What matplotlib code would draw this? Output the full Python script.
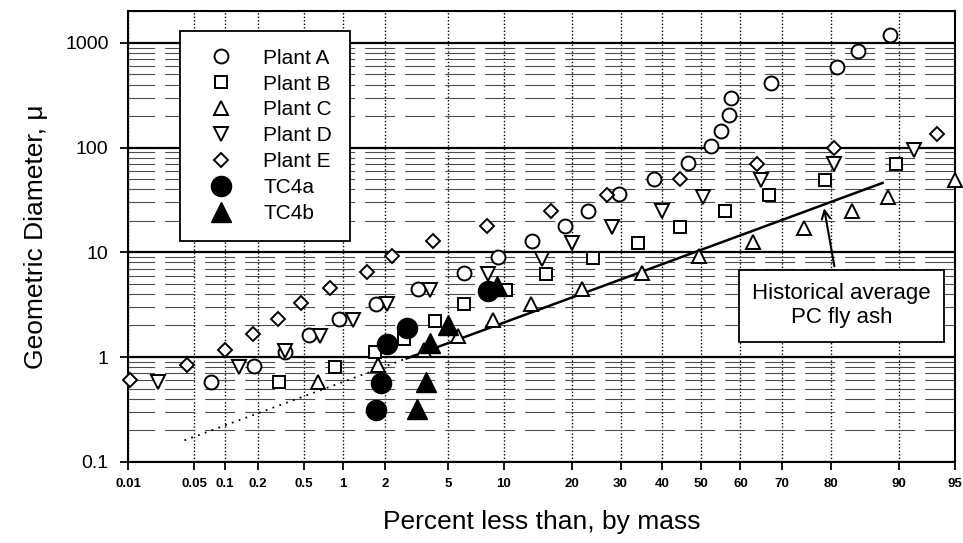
import math
from statistics import NormalDist

import matplotlib
matplotlib.use("Agg")
import matplotlib.pyplot as plt
import numpy as np
from matplotlib.ticker import FixedLocator, LogLocator, NullFormatter, NullLocator

plt.rcParams['font.family'] = ['Liberation Sans', 'DejaVu Sans']

# cumulative percent less than (by mass) vs geometric diameter
plant_a_pct = [0.073, 0.185, 0.345, 0.55, 0.93, 1.73, 3.3, 6.2, 9.4, 13.6, 18.8, 23.2,
               29.7, 37.9, 46.5, 52.6, 55.0, 57.2, 57.6, 67.3, 81.0, 84.5, 88.9]
plant_a_d = [0.58, 0.82, 1.12, 1.64, 2.3, 3.2, 4.5, 6.4, 9.0, 12.8, 18, 25,
             36, 50, 72, 103, 144, 205, 295, 410, 590, 840, 1190]

plant_b_pct = [0.31, 0.88, 1.7, 2.7, 4.2, 6.2, 10.2, 15.7, 24.2, 34, 44.6, 56, 67, 78.8, 89.7]
plant_b_d = [0.58, 0.80, 1.12, 1.5, 2.2, 3.2, 4.4, 6.2, 8.8, 12.4, 17.5, 25, 35, 49, 69]

plant_c_pct = [0.65, 1.8, 3.6, 5.7, 8.8, 13.5, 22, 35, 49.5, 63, 74.7, 83.6, 88.7, 95]
plant_c_d = [0.58, 0.83, 1.16, 1.6, 2.24, 3.2, 4.5, 6.3, 9.3, 12.6, 17, 25, 34, 49]

plant_d_pct = [0.021, 0.135, 0.345, 0.67, 1.2, 2.08, 3.9, 8.3, 15, 20, 28, 40, 50.3, 65, 80.5, 91.6]
plant_d_d = [0.58, 0.80, 1.14, 1.6, 2.25, 3.2, 4.4, 6.2, 8.7, 12.3, 17.5, 25, 34, 49, 69, 95]

plant_e_pct = [0.0105, 0.042, 0.10, 0.18, 0.30, 0.47, 0.8, 1.5, 2.25, 4.1, 8.2, 16.4,
               27, 44.5, 64, 80.5, 93.7]
plant_e_d = [0.6, 0.84, 1.16, 1.67, 2.33, 3.3, 4.6, 6.5, 9.2, 12.8, 18, 25,
             35, 50, 70, 100, 135]

tc4a_pct = [1.73, 1.9, 2.08, 2.8, 8.3]
tc4a_d = [0.31, 0.56, 1.32, 1.9, 4.3]

tc4b_pct = [3.26, 3.7, 3.9, 5.0, 9.3]
tc4b_d = [0.32, 0.58, 1.37, 2.0, 4.8]

# historical average PC fly ash (dotted extrapolation, then solid)
hist_pct = [0.04, 2.8, 88]
hist_d = [0.16, 0.97, 46]

x_ticks = [0.01, 0.05, 0.1, 0.2, 0.5, 1, 2, 5, 10, 20, 30, 40, 50, 60, 70, 80, 90, 95]
x_labels = ['0.01', '0.05', '0.1', '0.2', '0.5', '1', '2', '5', '10', '20', '30',
            '40', '50', '60', '70', '80', '90', '95']
y_ticks = [0.1, 1, 10, 100, 1000]
y_labels = ['0.1', '1', '10', '100', '1000']

_nd = NormalDist()
_ppf = np.vectorize(_nd.inv_cdf, otypes=[float])
_erf = np.vectorize(math.erf, otypes=[float])


def prob_fwd(p):
    p = np.clip(np.asarray(p, dtype=float) / 100.0, 1e-12, 1 - 1e-12)
    return _ppf(p)


def prob_inv(z):
    z = np.asarray(z, dtype=float)
    return 50.0 * (1.0 + _erf(z / math.sqrt(2.0)))


fig = plt.figure(figsize=(9.63, 5.43), dpi=100)
ax = fig.add_axes([0.1329, 0.1497, 0.8588, 0.8293])

ax.set_xscale('function', functions=(prob_fwd, prob_inv))
ax.set_yscale('log')
ax.set_xlim(0.01, 95)
ax.set_ylim(0.1, 2000)

open_kw = dict(linestyle='none', mfc='white', mec='black', mew=1.4, clip_on=False, zorder=3)
ax.plot(plant_a_pct, plant_a_d, marker='o', ms=10, label='Plant A', **open_kw)
ax.plot(plant_b_pct, plant_b_d, marker='s', ms=9, label='Plant B', **open_kw)
ax.plot(plant_c_pct, plant_c_d, marker='^', ms=10, label='Plant C', **open_kw)
ax.plot(plant_d_pct, plant_d_d, marker='v', ms=10, label='Plant D', **open_kw)
ax.plot(plant_e_pct, plant_e_d, marker='D', ms=7.5, label='Plant E', **open_kw)
ax.plot(tc4a_pct, tc4a_d, 'o', color='black', ms=14.5, label='TC4a', zorder=4)
ax.plot(tc4b_pct, tc4b_d, '^', color='black', ms=14.5, label='TC4b', zorder=4)

ax.plot(hist_pct[:2], hist_d[:2], color='black', lw=1.3, linestyle=(0, (1, 3)), zorder=2)
ax.plot(hist_pct[1:], hist_d[1:], color='black', lw=1.8, zorder=2)

# axes, ticks and graph-paper grid
ax.xaxis.set_major_locator(FixedLocator(x_ticks))
ax.set_xticklabels(x_labels, fontsize=9.5, fontweight='bold')
ax.xaxis.set_minor_locator(NullLocator())
ax.yaxis.set_major_locator(FixedLocator(y_ticks))
ax.set_yticklabels(y_labels, fontsize=14)
ax.yaxis.set_minor_locator(LogLocator(base=10, subs=np.arange(2, 10)))
ax.yaxis.set_minor_formatter(NullFormatter())

ax.tick_params(which='major', direction='out', length=6, width=1.3, pad=6)
ax.tick_params(axis='y', which='major', pad=8)
ax.tick_params(which='minor', length=0)

ax.set_axisbelow(True)
ax.grid(which='major', axis='y', color='black', lw=1.6)
ax.grid(which='minor', axis='y', color='0.3', lw=0.8, linestyle=(3, (27, 9)))
ax.grid(which='major', axis='x', color='black', lw=1.0, linestyle=(0, (1, 1.5)))

for s in ax.spines.values():
    s.set_linewidth(1.5)

ax.set_xlabel('Percent less than, by mass', fontsize=19, labelpad=14)
ax.set_ylabel('Geometric Diameter, μ', fontsize=19, labelpad=12)

leg = ax.legend(loc='upper left', bbox_to_anchor=(0.0629, 0.9565), borderaxespad=0,
                fontsize=15, frameon=True, fancybox=False, framealpha=1,
                edgecolor='black', borderpad=0.85, labelspacing=0.33,
                handlelength=2.2, handletextpad=0.95)
leg.get_frame().set_linewidth(1.3)
leg.set_zorder(5)

ax.annotate('Historical average\nPC fly ash', xy=(78.6, 28), xytext=(81.8, 3.1),
            ha='center', va='center', fontsize=16, zorder=6,
            bbox=dict(boxstyle='square,pad=0.6', fc='white', ec='black', lw=1.3),
            arrowprops=dict(arrowstyle='->', color='black', lw=1.5, mutation_scale=15))

fig.savefig('out.png', dpi=100)
